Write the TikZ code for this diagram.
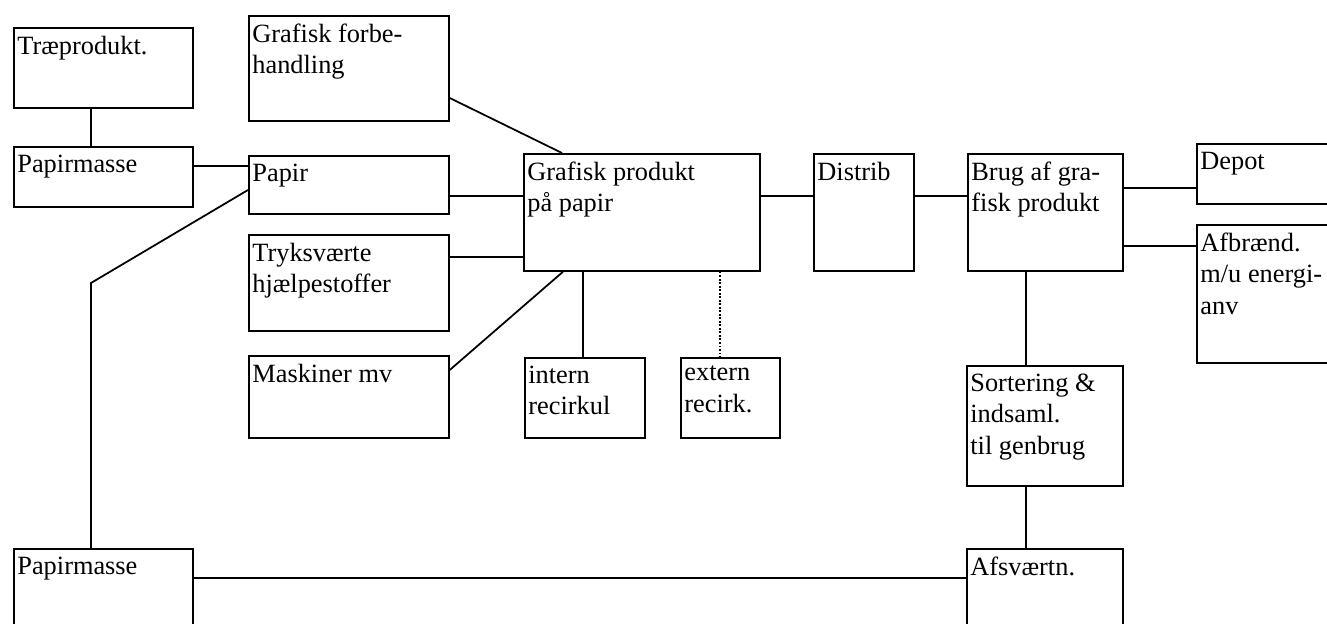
\documentclass[tikz,border=0pt]{standalone}
\usepackage{fontspec}
\setmainfont{Liberation Serif}
\usepackage{tikz}

\begin{document}
\begin{tikzpicture}[x=0.02cm,y=-0.02cm,line width=1pt,
    box/.style={draw,rectangle,anchor=north west,inner sep=0pt},
    txt/.style={anchor=north west,align=left,inner xsep=2pt,inner ysep=4.5pt,
        font=\fontsize{15}{18}\selectfont}]
      \useasboundingbox (0,0) rectangle (1327,624);
      \clip (0,0) rectangle (1327,624);

      % left column
      \node[box,minimum width=3.58cm,minimum height=1.6cm,label={[txt]north west:{Træprodukt.}}] (trae) at (13,27) {};
      \node[box,minimum width=3.58cm,minimum height=1.2cm,label={[txt]north west:{Papirmasse}}] (masse) at (13,146) {};
      \node[box,minimum width=3.58cm,minimum height=2cm,label={[txt]north west:{Papirmasse}}] (masseny) at (13,548) {};

      % inputs
      \node[box,minimum width=4cm,minimum height=2.1cm,label={[txt]north west:{Grafisk forbe-\\handling}}] (forbeh) at (248,15) {};
      \node[box,minimum width=4cm,minimum height=1.16cm,label={[txt]north west:{Papir}}] (papir) at (248,155) {};
      \node[box,minimum width=4cm,minimum height=1.92cm,label={[txt]north west:{Tryksværte\\hjælpestoffer}}] (tryk) at (248,234) {};
      \node[box,minimum width=4cm,minimum height=1.64cm,label={[txt]north west:{Maskiner mv}}] (maskiner) at (248,355) {};

      % production and use
      \node[box,minimum width=4.72cm,minimum height=2.34cm,label={[txt]north west:{Grafisk produkt\\på papir}}] (grafprod) at (523,153) {};
      \node[box,minimum width=2.4cm,minimum height=1.6cm,label={[txt]north west:{intern\\recirkul}}] (intern) at (524,357) {};
      \node[box,minimum width=1.98cm,minimum height=1.6cm,label={[txt]north west:{extern\\recirk.}}] (extern) at (680,357) {};
      \node[box,minimum width=2cm,minimum height=2.34cm,label={[txt]north west:{Distrib}}] (distrib) at (813,153) {};
      \node[box,minimum width=3.1cm,minimum height=2.34cm,label={[txt]north west:{Brug af gra-\\fisk produkt}}] (brug) at (967,153) {};
      \node[box,minimum width=3cm,minimum height=1.2cm,label={[txt]north west:{Depot}}] (depot) at (1196,143) {};
      \node[box,minimum width=3cm,minimum height=2.76cm,label={[txt]north west:{Afbrænd.\\m/u energi-\\anv}}] (afbr) at (1196,224) {};
      \node[box,minimum width=3.12cm,minimum height=2.4cm,label={[txt]north west:{Sortering \&\\indsaml.\\til genbrug}}] (sort) at (966,365) {};
      \node[box,minimum width=3.12cm,minimum height=2cm,label={[txt]north west:{Afsværtn.}}] (afsv) at (966,548) {};

      % connections
      \draw (trae.south -| 91,0) -- (masse.north -| 91,0);
      \draw (masse.east |- 0,166) -- (papir.west |- 0,166);
      \draw (papir.west |- 0,190) -- (91,283) -- (masseny.north -| 91,0);
      \draw (forbeh.east |- 0,98) -- (grafprod.north -| 562,0);
      \draw (papir.east |- 0,196) -- (grafprod.west |- 0,196);
      \draw (tryk.east |- 0,257) -- (grafprod.west |- 0,257);
      \draw (maskiner.east |- 0,370) -- (grafprod.south -| 563,0);
      \draw (grafprod.south -| 583,0) -- (intern.north -| 583,0);
      \draw[densely dotted] (grafprod.south -| 720,0) -- (extern.north -| 720,0);
      \draw (grafprod.east |- 0,196) -- (distrib.west |- 0,196);
      \draw (distrib.east |- 0,196) -- (brug.west |- 0,196);
      \draw (brug.east |- 0,188) -- (depot.west |- 0,188);
      \draw (brug.east |- 0,246) -- (afbr.west |- 0,246);
      \draw (brug.south -| 1026,0) -- (sort.north -| 1026,0);
      \draw (sort.south -| 1026,0) -- (afsv.north -| 1026,0);
      \draw (masseny.east |- 0,578) -- (afsv.west |- 0,578);
    \end{tikzpicture}
\end{document}
